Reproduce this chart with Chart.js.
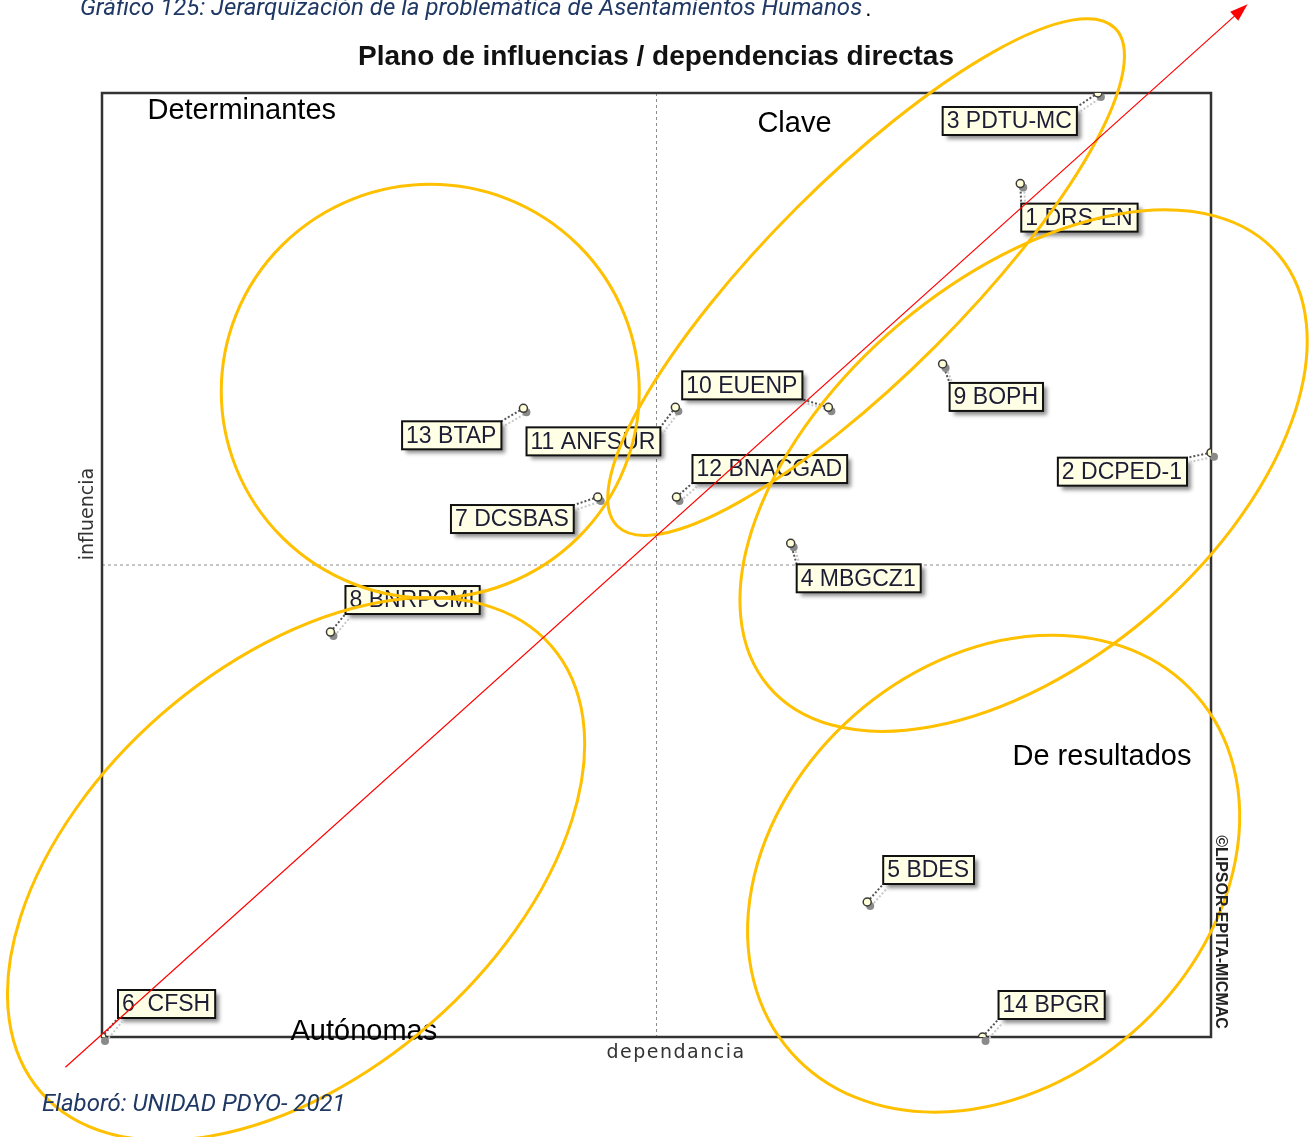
<!DOCTYPE html>
<html>
<head>
<meta charset="utf-8">
<title>Plano de influencias / dependencias directas</title>
<script src="https://cdn.jsdelivr.net/npm/chart.js@4.4.1/dist/chart.umd.min.js"></script>
<style>
  html, body { margin: 0; padding: 0; background: #fff; }
  canvas { display: block; }
</style>
</head>
<body>
<canvas id="micmac" width="1311" height="1137"></canvas>
<script>
// MICMAC variables: dependence (x) and influence (y), scaled 0-100
const varLabels = ['1 DRS-EN', '2 DCPED-1', '3 PDTU-MC', '4 MBGCZ1', '5 BDES', '6  CFSH', '7 DCSBAS',
    '8 BNRPCMI', '9 BOPH', '10 EUENP', '11 ANFSUR', '12 BNACGAD', '13 BTAP', '14 BPGR'];
const dependencia = [82.8, 100, 89.8, 62.1, 69.0, 0, 44.7, 20.6, 75.8, 65.5, 51.7, 51.8, 38.0, 79.4];
const influencia = [90.4, 61.9, 100, 52.3, 14.3, 0, 57.2, 42.9, 71.3, 66.7, 66.7, 57.2, 66.6, 0];

// where each label box sits relative to its point: [dx, dy, edge of box the dx refers to]
const labelOffsets = [[1, 20, 'l'], [-24, 5, 'r'], [-21, 14, 'r'], [6, 21, 'l'], [16, -46, 'l'], [16, -47, 'l'],
    [-24, 8, 'r'], [15, -46, 'l'], [7, 19, 'l'], [-26, -36, 'r'], [-15, 20, 'r'], [16, -42, 'l'], [-22, 13, 'r'], [16, -46, 'l']];

// quadrant names (data coords of the text's left baseline)
const quadrantNames = ['Determinantes', 'Clave', 'De resultados', 'Autónomas'];
const quadrantPos = [[4.1, 97.2], [59.1, 95.9], [82.1, 28.8], [17.0, -0.3]];

// hand-drawn ellipses: center in data coords, radii in px, rotation in degrees
const ellipses = [
    { cx: 29.6, cy: 68.4, rx: 209, ry: 207, rot: 0 },
    { cx: 68.9, cy: 80.5, rx: 352, ry: 98, rot: -45 },
    { cx: 83.1, cy: 60.0, rx: 334, ry: 192, rot: -40.2 },
    { cx: 17.5, cy: 17.8, rx: 339, ry: 205, rot: -41.2 },
    { cx: 80.4, cy: 17.3, rx: 270, ry: 211, rot: -41.3 }
];
const arrowFrom = [-3.3, -3.2];
const arrowTo = [103.3, 109.4];

const LABEL_FONT = '23px "Liberation Sans", Arial, sans-serif';

function labelBox(ctx, i, pt) {
    ctx.font = LABEL_FONT;
    const w = ctx.measureText(varLabels[i]).width + 9;
    const [dx, dy, side] = labelOffsets[i];
    const left = side === 'r' ? pt.x + dx - w : pt.x + dx;
    return { left, top: pt.y + dy, w, h: 28 };
}

const micmacPlugin = {
    id: 'micmac',
    beforeDatasetsDraw(chart) {
        const { ctx, chartArea: a, scales: { x, y } } = chart;
        const mx = x.getPixelForValue(50);
        const my = y.getPixelForValue(50);
        ctx.save();
        // dashed mean lines
        ctx.strokeStyle = '#8c8c8c';
        ctx.lineWidth = 1;
        ctx.setLineDash([3, 3]);
        ctx.beginPath();
        ctx.moveTo(mx, a.top); ctx.lineTo(mx, a.bottom);
        ctx.moveTo(a.left, my); ctx.lineTo(a.right, my);
        ctx.stroke();
        ctx.setLineDash([]);
        // frame
        ctx.strokeStyle = '#333';
        ctx.lineWidth = 2.5;
        ctx.strokeRect(a.left, a.top, a.right - a.left, a.bottom - a.top);

        // leader lines and point shadows
        const meta = chart.getDatasetMeta(0);
        meta.data.forEach((pt, i) => {
            const b = labelBox(ctx, i, pt);
            const ex = Math.min(Math.max(pt.x, b.left), b.left + b.w);
            const ey = Math.min(Math.max(pt.y, b.top), b.top + b.h);
            ctx.lineWidth = 2;
            ctx.setLineDash([2, 2]);
            ctx.strokeStyle = '#c8c8c8';
            ctx.beginPath(); ctx.moveTo(pt.x + 4, pt.y + 4); ctx.lineTo(ex + 4, ey + 4); ctx.stroke();
            ctx.strokeStyle = '#555';
            ctx.beginPath(); ctx.moveTo(pt.x, pt.y); ctx.lineTo(ex, ey); ctx.stroke();
            ctx.setLineDash([]);
            ctx.fillStyle = '#8a8a8a';
            ctx.beginPath(); ctx.arc(pt.x + 3, pt.y + 4, 4, 0, Math.PI * 2); ctx.fill();
        });
        ctx.restore();
    },
    afterDatasetsDraw(chart) {
        const { ctx, scales: { x, y } } = chart;
        const meta = chart.getDatasetMeta(0);
        ctx.save();
        // label boxes
        meta.data.forEach((pt, i) => {
            const b = labelBox(ctx, i, pt);
            ctx.save();
            ctx.shadowColor = 'rgba(0,0,0,0.45)';
            ctx.shadowOffsetX = 4;
            ctx.shadowOffsetY = 4;
            ctx.shadowBlur = 4;
            ctx.fillStyle = '#ffffe6';
            ctx.fillRect(b.left, b.top, b.w, b.h);
            ctx.restore();
            ctx.strokeStyle = '#111';
            ctx.lineWidth = 2;
            ctx.strokeRect(b.left, b.top, b.w, b.h);
            ctx.fillStyle = '#1c1c34';
            ctx.font = LABEL_FONT;
            ctx.textBaseline = 'middle';
            ctx.fillText(varLabels[i], b.left + 4, b.top + b.h / 2 + 1);
        });

        // quadrant names
        ctx.fillStyle = '#000';
        ctx.font = '29px "Liberation Sans", Arial, sans-serif';
        ctx.textBaseline = 'alphabetic';
        quadrantNames.forEach((t, i) => {
            ctx.fillText(t, x.getPixelForValue(quadrantPos[i][0]), y.getPixelForValue(quadrantPos[i][1]));
        });

        // ellipses
        ctx.strokeStyle = '#ffc000';
        ctx.lineWidth = 3;
        ellipses.forEach(e => {
            ctx.beginPath();
            ctx.ellipse(x.getPixelForValue(e.cx), y.getPixelForValue(e.cy), e.rx, e.ry, e.rot * Math.PI / 180, 0, Math.PI * 2);
            ctx.stroke();
        });

        // red diagonal arrow
        const x0 = x.getPixelForValue(arrowFrom[0]), y0 = y.getPixelForValue(arrowFrom[1]);
        const x1 = x.getPixelForValue(arrowTo[0]), y1 = y.getPixelForValue(arrowTo[1]);
        const ang = Math.atan2(y1 - y0, x1 - x0);
        ctx.strokeStyle = '#ff0000';
        ctx.fillStyle = '#ff0000';
        ctx.lineWidth = 1.2;
        ctx.beginPath(); ctx.moveTo(x0, y0);
        ctx.lineTo(x1 - 14 * Math.cos(ang), y1 - 14 * Math.sin(ang)); ctx.stroke();
        ctx.beginPath();
        ctx.moveTo(x1, y1);
        ctx.lineTo(x1 - 18 * Math.cos(ang) + 6 * Math.sin(ang), y1 - 18 * Math.sin(ang) - 6 * Math.cos(ang));
        ctx.lineTo(x1 - 18 * Math.cos(ang) - 6 * Math.sin(ang), y1 - 18 * Math.sin(ang) + 6 * Math.cos(ang));
        ctx.closePath(); ctx.fill();
        ctx.restore();
    },
    afterDraw(chart) {
        const { ctx } = chart;
        ctx.save();
        // caption and source
        ctx.fillStyle = '#1f3864';
        ctx.font = 'italic 24px Roboto, sans-serif';
        ctx.textBaseline = 'alphabetic';
        const cap = 'Gráfico 125: Jerarquización de la problemática de Asentamientos Humanos';
        ctx.fillText(cap, 80, 15);
        const cw = ctx.measureText(cap).width;
        ctx.fillStyle = '#000';
        ctx.font = '22px "Liberation Sans", Arial, sans-serif';
        ctx.fillText('.', 80 + cw + 3, 16);
        ctx.fillStyle = '#1f3864';
        ctx.font = 'italic 24px Roboto, sans-serif';
        ctx.fillText('Elaboró: UNIDAD PDYO- 2021', 42, 1111);

        // chart title
        ctx.fillStyle = '#111';
        ctx.font = 'bold 28px "Liberation Sans", Arial, sans-serif';
        ctx.textAlign = 'center';
        ctx.fillText('Plano de influencias / dependencias directas', 656, 65);

        // axis titles
        ctx.fillStyle = '#333';
        ctx.font = '19px "DejaVu Sans", sans-serif';
        ctx.letterSpacing = '1.5px';
        ctx.fillText('dependancia', 676, 1058);
        ctx.letterSpacing = '0px';
        ctx.save();
        ctx.translate(93, 514);
        ctx.rotate(-Math.PI / 2);
        ctx.fillText('influencia', 0, 0);
        ctx.restore();

        // watermark
        ctx.save();
        ctx.translate(1216, 932);
        ctx.rotate(Math.PI / 2);
        ctx.fillStyle = '#222';
        ctx.font = 'bold 16px "Liberation Sans", Arial, sans-serif';
        ctx.fillText('©LIPSOR-EPITA-MICMAC', 0, 0);
        ctx.restore();
        ctx.restore();
    }
};

new Chart(document.getElementById('micmac'), {
    type: 'scatter',
    data: {
        datasets: [{
            data: dependencia.map((d, i) => ({ x: d, y: influencia[i] })),
            pointRadius: 4,
            pointBorderWidth: 1.5,
            pointBorderColor: '#3a3a3a',
            pointBackgroundColor: '#ffffd8'
        }]
    },
    options: {
        responsive: false,
        devicePixelRatio: 1,
        animation: false,
        layout: { padding: { left: 102, right: 100, top: 93, bottom: 100 } },
        scales: {
            x: { type: 'linear', min: 0, max: 100, display: false },
            y: { type: 'linear', min: 0, max: 100, display: false }
        },
        plugins: {
            legend: { display: false },
            tooltip: { enabled: false }
        }
    },
    plugins: [micmacPlugin]
});
</script>
</body>
</html>
